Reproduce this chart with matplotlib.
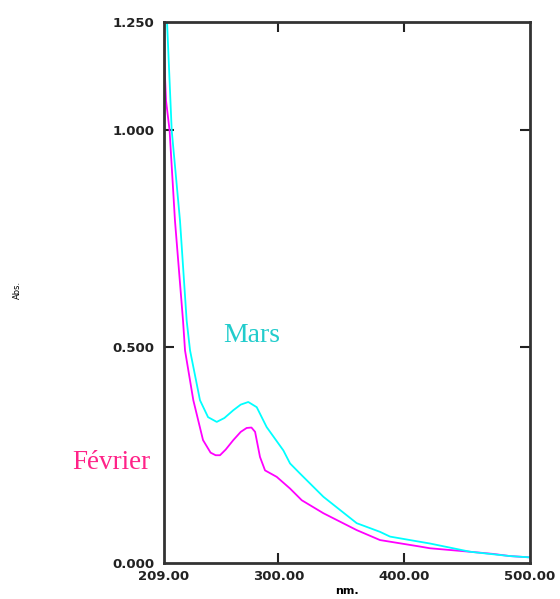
import numpy as np
import matplotlib
matplotlib.use('Agg')
import matplotlib.pyplot as plt

# absorbance spectra (nm, Abs.)
mars_nm = [209, 211.4, 215.1, 221.7, 227.0, 229.7, 237.6, 244.0, 250.9, 257.0,
           264.1, 270.0, 276.0, 282.7, 290.6, 303.9, 309.2, 317.0, 335.7, 362.2,
           380.7, 388.7, 412.5, 420.5, 452.3, 484.0, 500.0]
mars_abs = [1.40, 1.25, 1.00, 0.791, 0.560, 0.491, 0.376, 0.337, 0.326, 0.335,
            0.353, 0.366, 0.372, 0.360, 0.314, 0.260, 0.230, 0.207, 0.153, 0.092,
            0.072, 0.061, 0.049, 0.045, 0.026, 0.016, 0.013]

fevrier_nm = [209, 210.6, 213.4, 217.7, 224.1, 225.7, 232.3, 240.0, 246.0, 250.0,
              253.5, 258.0, 264.1, 270.0, 274.7, 278.5, 281.4, 285.3, 289.3, 298.6,
              309.2, 318.5, 335.7, 362.2, 380.7, 412.5, 420.5, 452.3, 470.6, 484.0, 500.0]
fevrier_abs = [1.176, 1.068, 1.00, 0.791, 0.560, 0.491, 0.376, 0.284, 0.255, 0.249,
               0.249, 0.262, 0.284, 0.303, 0.312, 0.313, 0.303, 0.245, 0.214, 0.199,
               0.172, 0.145, 0.115, 0.076, 0.053, 0.038, 0.034, 0.026, 0.021, 0.016, 0.013]

x_ticks = [209, 300, 400, 500]
x_ticklabels = ['209.00', '300.00', '400.00', '500.00']
y_ticks = [0, 0.5, 1.0, 1.25]
y_ticklabels = ['0.000', '0.500', '1.000', '1.250']

fig = plt.figure(figsize=(5.6, 5.99), dpi=100)
ax = fig.add_axes([0.2929, 0.0601, 0.6536, 0.9032])

ax.plot(fevrier_nm, fevrier_abs, color='#ff00ff', lw=1.3)
ax.plot(mars_nm, mars_abs, color='#00ffff', lw=1.3)

ax.set_xlim(209, 500)
ax.set_ylim(0, 1.25)

ax.set_xticks(x_ticks)
ax.set_xticklabels(x_ticklabels, fontsize=9.5, fontweight='bold', color='#222222')
ax.set_yticks(y_ticks)
ax.set_yticklabels(y_ticklabels, fontsize=9.5, fontweight='bold', color='#222222')
ax.tick_params(direction='in', length=7, width=1.5, color='#222222',
               top=True, right=True)
ax.tick_params(axis='x', pad=5)
ax.tick_params(axis='y', pad=7)
# hide ticks at the axis edges
for t in ax.xaxis.get_major_ticks()[::3]:
    t.tick1line.set_visible(False)
    t.tick2line.set_visible(False)
for t in ax.yaxis.get_major_ticks()[::3]:
    t.tick1line.set_visible(False)
    t.tick2line.set_visible(False)

for s in ax.spines.values():
    s.set_linewidth(2)
    s.set_color('#333333')

ax.set_xlabel('nm.', fontsize=8, fontweight='bold', labelpad=2)
fig.text(0.032, 0.516, 'Abs.', rotation=90, fontsize=6, ha='center', va='center')

ax.text(279, 0.526, 'Mars', color='#22cccc', fontsize=20,
        family='Liberation Serif', ha='center', va='center')
fig.text(0.198, 0.228, 'Février', color='#ff2288', fontsize=19.5,
         family='Liberation Serif', ha='center', va='center')

fig.savefig('out.png', dpi=100)
